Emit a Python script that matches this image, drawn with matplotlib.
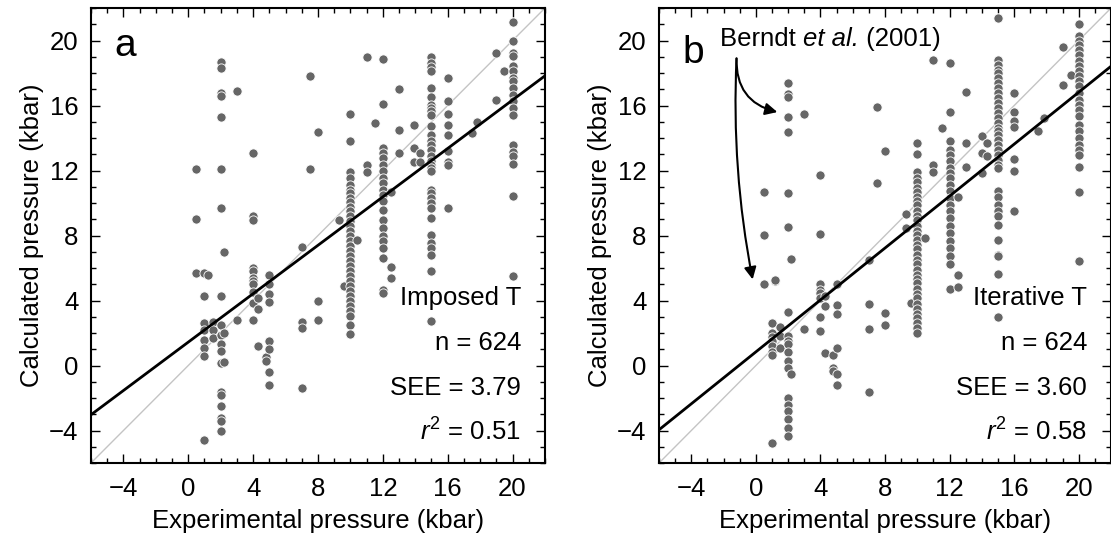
import numpy as np
import matplotlib
matplotlib.use('Agg')
import matplotlib.pyplot as plt
from matplotlib.ticker import MultipleLocator

plt.rcParams['font.family'] = ['Liberation Sans', 'DejaVu Sans']
plt.rcParams['mathtext.fontset'] = 'custom'
plt.rcParams['mathtext.rm'] = 'Liberation Sans'
plt.rcParams['mathtext.it'] = 'Liberation Sans:italic'

# experimental pressure (kbar) of each column of points, and calculated pressures in it
# panel a: imposed T
exp_a = [0.5, 1.0, 1.2, 1.5, 2.0, 2.2, 3.0, 4.0, 4.3, 4.8, 5.0, 7.0, 7.5, 8.0, 9.3, 9.6,
         10.0, 10.4, 11.0, 11.5, 12.0, 12.5, 13.0, 13.9, 14.3, 15.0, 16.0, 17.5, 17.8,
         19.0, 19.5, 20.0]
calc_a = [
    [12.1, 9.0, 5.7],
    [5.7, 4.3, 2.6, 2.2, 1.6, 1.1, 0.6, -4.6],
    [5.6],
    [2.7, 2.2, 1.7],
    [18.7, 18.3, 16.8, 16.6, 15.3, 12.1, 9.7, 4.3, 2.5, 1.9, 1.3, 0.9, 0.15, -1.6, -1.8,
     -2.5, -3.2, -3.4, -4.0],
    [7.0, 2.0, 0.2],
    [16.9, 2.8],
    [13.1, 9.2, 8.95, 6.0, 5.8, 5.4, 5.2, 5.0, 4.5, 3.85, 2.8],
    [4.15, 3.5, 1.2],
    [0.55, 0.3],
    [5.6, 5.0, 4.4, 3.9, 1.5, 1.0, -0.4, -1.2],
    [7.3, 2.7, 2.3, -1.4],
    [17.8, 12.1],
    [14.35, 3.95, 2.8],
    [8.95],
    [4.9],
    [15.48, 13.84, 11.89, 11.54, 11.13, 10.82, 10.62, 10.31, 10.04, 9.73, 9.49, 9.18,
     8.87, 8.56, 8.26, 7.95, 7.64, 7.33, 7.03, 6.72, 6.41, 6.10, 5.79, 5.49, 5.18, 4.87,
     4.56, 4.26, 3.95, 3.64, 3.33, 3.03, 2.51, 1.94],
    [7.75],
    [19.0, 12.35, 11.9],
    [14.95],
    [18.85, 16.1, 13.38, 13.08, 12.77, 12.36, 11.95, 11.54, 11.23, 10.82, 10.51, 10.1,
     9.59, 8.97, 8.46, 7.95, 7.64, 7.23, 6.62, 4.67, 4.46],
    [10.65, 6.05, 5.4],
    [17.0, 14.5, 13.05],
    [14.8, 13.4, 12.5],
    [13.1, 12.55],
    [18.96, 18.62, 18.35, 18.1, 17.08, 16.52, 16.05, 15.85, 15.64, 15.44, 14.72, 14.21,
     13.79, 13.59, 13.28, 12.87, 12.56, 12.36, 12.15, 11.95, 10.82, 10.62, 10.31, 10.0,
     9.69, 9.08, 8.05, 7.54, 7.23, 6.82, 5.79, 2.72],
    [17.7, 16.3, 15.5, 14.8, 14.2, 13.2, 12.5, 12.35, 9.7],
    [14.3],
    [15.0],
    [19.25, 16.35],
    [18.1],
    [21.14, 19.95, 19.23, 19.03, 18.41, 18.1, 17.69, 17.49, 17.08, 16.67, 16.26, 15.85,
     15.44, 13.59, 13.14, 12.87, 12.4, 10.41, 5.49],
]

# panel b: iterative T
exp_b = [0.5, 1.0, 1.2, 1.5, 2.0, 2.2, 3.0, 4.0, 4.3, 4.8, 5.0, 7.0, 7.5, 8.0, 9.3, 9.6,
         10.0, 10.5, 11.0, 11.5, 12.0, 12.5, 13.0, 14.0, 14.3, 15.0, 16.0, 17.5, 17.85,
         19.0, 19.5, 20.0]
calc_b = [
    [10.65, 8.05, 5.0],
    [2.6, 2.0, 1.75, 1.5, 1.2, 0.85, 0.65, -4.75],
    [5.2, 5.25],
    [2.4, 1.8, 1.1],
    [17.4, 16.7, 16.5, 15.3, 14.35, 10.6, 8.55, 3.3, 1.8, 1.5, 1.3, 0.85, 0.3, -0.15,
     -2.0, -2.4, -2.8, -3.3, -3.85, -4.35],
    [6.55, -0.5],
    [15.5, 2.25],
    [11.75, 8.1, 5.0, 4.65, 4.45, 4.15, 3.0, 2.15],
    [4.25, 3.65, 0.75],
    [0.65, -0.15, -0.35],
    [5.0, 3.75, 3.2, 1.1, -0.55, -1.2],
    [6.5, 3.8, 2.25, -1.6],
    [15.9, 11.25],
    [13.2, 3.25, 2.5],
    [9.3, 8.45],
    [3.85],
    [13.7, 13.0, 11.9, 11.55, 11.3, 10.95, 10.7, 10.4, 10.1, 9.85, 9.5, 9.2, 8.95, 8.6,
     8.3, 8.05, 7.7, 7.4, 7.15, 6.8, 6.5, 6.25, 5.9, 5.6, 5.3, 5.05, 4.7, 4.4, 4.15,
     3.8, 3.5, 3.2, 2.9, 2.6, 2.3, 2.0],
    [7.85],
    [18.8, 12.35, 11.9],
    [14.65],
    [18.65, 15.6, 13.79, 13.28, 12.97, 12.56, 12.15, 11.85, 11.54, 11.13, 10.72, 10.31,
     9.9, 9.49, 9.08, 8.56, 8.15, 7.64, 7.23, 6.72, 6.25, 4.7],
    [10.4, 5.6, 4.85],
    [16.85, 13.7, 12.2],
    [14.1, 13.1, 11.85],
    [13.7, 12.9],
    [21.4, 18.82, 18.51, 18.2, 18.0, 17.69, 17.38, 17.08, 16.77, 16.46, 16.15, 15.85,
     15.54, 15.23, 14.92, 14.62, 14.41, 14.21, 13.9, 13.59, 13.28, 12.97, 12.67, 12.36,
     12.15, 10.76, 10.35, 9.9, 9.49, 9.18, 8.67, 7.74, 6.82, 6.72, 5.65, 2.96],
    [16.8, 15.6, 15.05, 14.7, 12.7, 12.0, 9.5],
    [14.45],
    [15.25],
    [19.6, 17.25],
    [17.9],
    [21.0, 20.26, 19.95, 19.7, 19.44, 19.13, 18.72, 18.41, 18.1, 17.79, 17.49, 17.18,
     16.77, 16.36, 16.05, 15.74, 15.33, 14.82, 14.41, 14.0, 13.59, 13.28, 12.97, 12.19,
     10.66, 6.45],
]

# regression fits (slope, intercept) and stats
fit_a = (0.745, 1.44)
fit_b = (0.799, 0.84)
labels_a = ['Imposed T', 'n = 624', 'SEE = 3.79', '$r^2$ = 0.51']
labels_b = ['Iterative T', 'n = 624', 'SEE = 3.60', '$r^2$ = 0.58']

lim = (-6, 22)
fs = 18.5


def flatten(xs, ys):
    x = np.concatenate([[p] * len(v) for p, v in zip(xs, ys)])
    y = np.concatenate([np.asarray(v, float) for v in ys])
    return x, y


fig = plt.figure(figsize=(11.11, 5.39), dpi=100)
ax_a = fig.add_axes([0.0819, 0.141, 0.4086, 0.844])
ax_b = fig.add_axes([0.5932, 0.141, 0.4068, 0.844])

panels = [(ax_a, exp_a, calc_a, fit_a, labels_a, 'a', 0.894),
          (ax_b, exp_b, calc_b, fit_b, labels_b, 'b', 0.879)]
for ax, xs, ys, fit, labels, letter, ly in panels:
    x, y = flatten(xs, ys)
    xx = np.array(lim, float)
    ax.plot(xx, xx, color='#c4c4c4', lw=1.0, zorder=1)
    ax.scatter(x, y, s=44, c='#666666', edgecolors='white', linewidths=0.6, zorder=2)
    ax.plot(xx, fit[0] * xx + fit[1], color='black', lw=2.0, zorder=3)

    ax.set_xlim(lim)
    ax.set_ylim(lim)
    ax.xaxis.set_major_locator(MultipleLocator(4))
    ax.yaxis.set_major_locator(MultipleLocator(4))
    ax.xaxis.set_minor_locator(MultipleLocator(1))
    ax.yaxis.set_minor_locator(MultipleLocator(1))
    ax.tick_params(which='both', direction='in', top=True, right=True, width=1.0,
                   labelsize=fs)
    ax.tick_params(axis='x', which='both', pad=10)
    ax.tick_params(axis='y', which='both', pad=9)
    ax.tick_params(which='major', length=6.5)
    ax.tick_params(which='minor', length=3.5)
    for s in ax.spines.values():
        s.set_linewidth(1.5)
    ax.set_xlabel('Experimental pressure (kbar)', fontsize=fs, labelpad=6)
    ax.set_ylabel('Calculated pressure (kbar)', fontsize=fs, labelpad=4)

    ax.text(0.052, ly, letter, transform=ax.transAxes, fontsize=28,
            ha='left', va='baseline')
    for i, t in enumerate(labels):
        ax.text(0.947, 0.347 - 0.099 * i, t, transform=ax.transAxes, fontsize=fs,
                ha='right', va='baseline', zorder=4,
                bbox=dict(facecolor='white', edgecolor='none', pad=1))

# reference label, with "et al." in italics
t1 = ax_b.text(0.135, 0.916, 'Berndt ', transform=ax_b.transAxes, fontsize=fs,
               ha='left', va='baseline')
t2 = ax_b.annotate('et al.', xy=(1, 0), xycoords=t1, fontsize=fs, style='italic',
                   ha='left', va='bottom')
ax_b.annotate(' (2001)', xy=(1, 0), xycoords=t2, fontsize=fs, ha='left', va='bottom')

ax_b.annotate('', xy=(1.33, 15.6), xytext=(-1.2, 18.9),
              arrowprops=dict(arrowstyle='-|>', color='black', lw=1.5,
                              mutation_scale=18, connectionstyle='arc3,rad=0.4',
                              shrinkA=0, shrinkB=0))
ax_b.annotate('', xy=(-0.2, 5.3), xytext=(-1.2, 18.9),
              arrowprops=dict(arrowstyle='-|>', color='black', lw=1.5,
                              mutation_scale=18, connectionstyle='arc3,rad=0.06',
                              shrinkA=0, shrinkB=0))

fig.savefig('out.png', dpi=100)
